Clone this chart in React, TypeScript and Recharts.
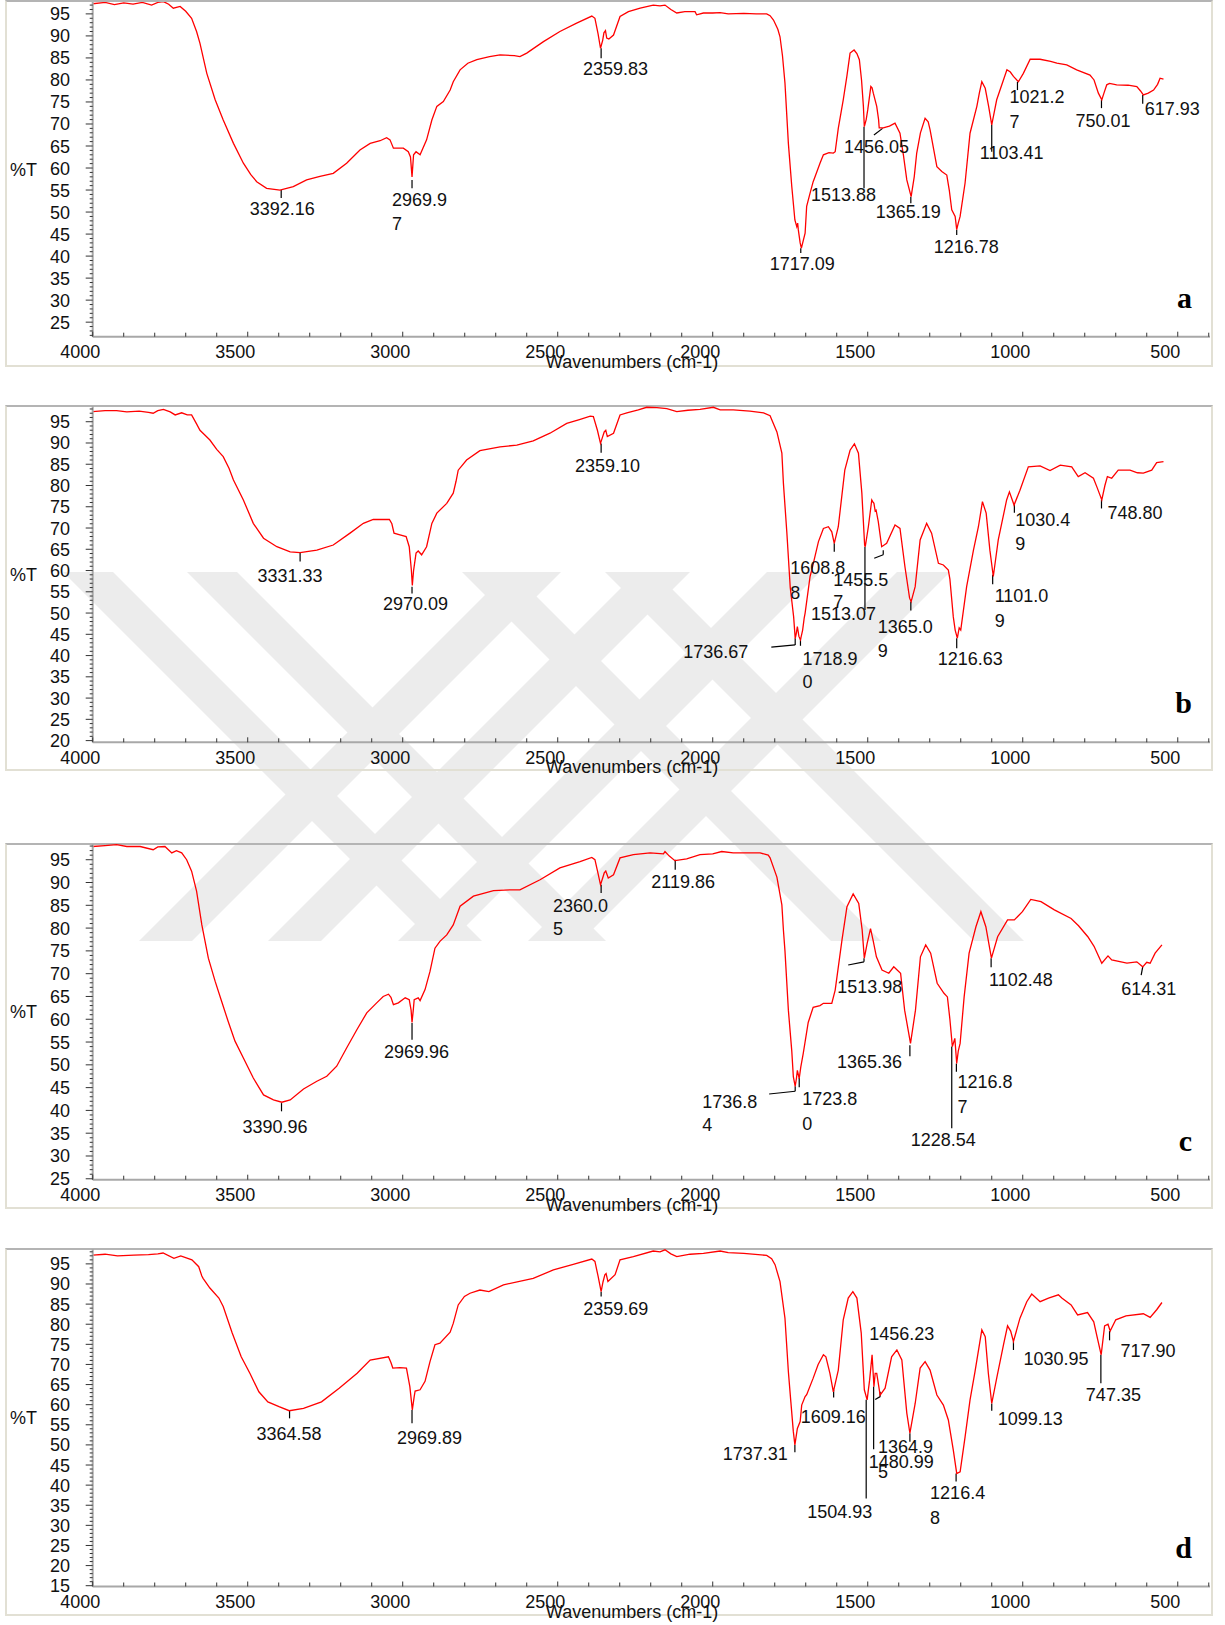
import React from 'react';
import { LineChart, Line, XAxis, YAxis, ReferenceLine, ReferenceDot } from 'recharts';

type Pt = [number, number];

// [wavenumber cm-1, %T]
const spectrumA: Pt[] = [
  [4000, 97.3], [3960, 97.6], [3930, 97.1], [3900, 97.5], [3870, 97.2], [3840, 97.6], [3810, 97.0], [3790, 97.6],
  [3772, 97.8], [3755, 97.2], [3740, 96.3], [3718, 96.7], [3700, 95.6], [3681, 94.0], [3665, 91.0], [3654, 88.3],
  [3632, 81.5], [3605, 75.5], [3579, 70.9], [3546, 65.6], [3514, 61.1], [3490, 58.5], [3471, 56.9], [3439, 55.4],
  [3396, 55.0], [3353, 55.8], [3310, 57.3], [3267, 58.1], [3224, 58.8], [3181, 61.1], [3138, 64.1], [3105, 65.6],
  [3073, 66.2], [3052, 66.9], [3041, 66.4], [3030, 64.5], [2998, 64.5], [2982, 63.7], [2975, 62.5], [2970, 58.0],
  [2965, 63.0], [2957, 63.7], [2944, 63.0], [2923, 66.4], [2906, 70.9], [2890, 74.0], [2869, 75.1], [2847, 77.7],
  [2837, 79.6], [2815, 82.3], [2790, 83.8], [2761, 84.6], [2720, 85.3], [2686, 85.7], [2640, 85.5], [2622, 85.3],
  [2600, 86.1], [2546, 88.7], [2493, 91.0], [2439, 92.9], [2390, 94.5], [2380, 94.0], [2370, 90.5], [2362, 87.2],
  [2355, 89.0], [2351, 90.7], [2346, 91.2], [2342, 89.5], [2335, 89.3], [2320, 90.2], [2299, 94.4], [2272, 95.5],
  [2234, 96.3], [2192, 97.0], [2170, 96.8], [2154, 97.0], [2135, 96.0], [2116, 95.2], [2090, 95.5], [2057, 95.5],
  [2052, 94.8], [2030, 95.2], [2000, 95.2], [1976, 95.3], [1950, 95.0], [1900, 95.1], [1860, 95.0], [1826, 95.0],
  [1815, 94.6], [1804, 93.6], [1790, 91.5], [1783, 89.8], [1775, 85.5], [1767, 79.3], [1756, 65.6], [1745, 55.8],
  [1735, 48.2], [1729, 46.7], [1726, 47.5], [1724, 46.0], [1718, 43.0], [1714, 41.8], [1708, 43.5], [1702, 45.2],
  [1697, 51.3], [1686, 54.3], [1676, 56.9], [1670, 58.0], [1654, 61.1], [1643, 63.0], [1625, 63.5], [1611, 63.4],
  [1605, 63.7], [1595, 69.0], [1579, 75.5], [1567, 81.0], [1557, 86.1], [1544, 86.8], [1535, 86.0], [1527, 84.6],
  [1520, 80.0], [1514, 74.0], [1511, 69.4], [1505, 71.0], [1500, 73.2], [1490, 78.5], [1486, 78.2], [1482, 77.0],
  [1471, 74.0], [1465, 71.0], [1463, 69.1], [1450, 69.1], [1430, 69.5], [1412, 70.2], [1396, 67.9], [1385, 63.0],
  [1374, 57.3], [1360, 53.5], [1350, 58.0], [1342, 63.4], [1330, 68.0], [1315, 71.3], [1305, 70.5], [1299, 68.7],
  [1277, 60.3], [1261, 59.2], [1245, 58.4], [1237, 55.0], [1229, 50.5], [1218, 49.0], [1213, 46.0], [1208, 47.5],
  [1202, 49.0], [1186, 56.6], [1170, 67.9], [1148, 74.0], [1140, 77.0], [1132, 79.6], [1121, 78.1], [1110, 74.0],
  [1100, 69.8], [1084, 75.5], [1051, 82.3], [1040, 81.8], [1030, 80.8], [1014, 79.6], [998, 81.5], [976, 84.7],
  [944, 84.7], [910, 84.2], [890, 83.8], [858, 83.4], [826, 82.3], [783, 81.1], [770, 80.0], [756, 77.0],
  [745, 75.5], [738, 77.0], [729, 78.9], [720, 79.2], [697, 78.9], [660, 78.8], [632, 78.5], [620, 77.5],
  [611, 76.6], [595, 77.0], [578, 77.7], [565, 79.0], [557, 80.4], [546, 80.2],
];

const spectrumB: Pt[] = [
  [4000, 97.4], [3960, 97.6], [3923, 97.6], [3890, 97.3], [3850, 97.5], [3820, 97.2], [3805, 97.0], [3790, 97.6],
  [3772, 97.9], [3750, 97.3], [3734, 96.6], [3713, 97.1], [3695, 96.6], [3681, 96.6], [3665, 94.5], [3654, 93.0],
  [3640, 92.0], [3622, 90.7], [3600, 88.5], [3579, 86.8], [3560, 84.0], [3546, 81.3], [3514, 76.6], [3482, 71.1],
  [3449, 67.6], [3406, 65.6], [3363, 64.4], [3331, 64.2], [3277, 64.8], [3224, 66.0], [3170, 68.8], [3127, 71.1],
  [3095, 72.0], [3043, 72.0], [3035, 71.0], [3028, 68.8], [3009, 68.4], [2989, 68.0], [2979, 65.6], [2972, 60.0],
  [2969, 56.5], [2965, 60.0], [2957, 64.1], [2950, 64.6], [2939, 63.7], [2923, 65.6], [2906, 71.1], [2890, 73.5],
  [2858, 75.8], [2837, 78.2], [2828, 81.0], [2821, 83.6], [2794, 86.0], [2751, 88.2], [2686, 89.1], [2632, 89.5],
  [2579, 90.5], [2525, 92.3], [2471, 94.6], [2430, 95.5], [2395, 96.3], [2385, 96.2], [2372, 93.0], [2362, 89.9],
  [2355, 91.5], [2350, 92.6], [2345, 93.0], [2340, 91.5], [2320, 92.3], [2299, 96.6], [2277, 97.1], [2240, 97.8],
  [2213, 98.4], [2180, 98.3], [2148, 98.1], [2116, 97.4], [2080, 97.7], [2041, 97.9], [1998, 98.4], [1976, 97.8],
  [1934, 97.8], [1880, 97.5], [1836, 97.1], [1815, 96.4], [1793, 92.6], [1777, 87.6], [1772, 80.5], [1761, 69.0],
  [1750, 56.0], [1739, 49.1], [1734, 44.0], [1731, 45.0], [1727, 46.8], [1722, 44.5], [1717, 43.7], [1710, 46.0],
  [1705, 48.8], [1702, 50.0], [1686, 58.6], [1681, 60.0], [1659, 66.8], [1643, 69.9], [1627, 70.3], [1616, 69.1],
  [1608, 66.4], [1595, 70.3], [1574, 83.6], [1557, 88.3], [1543, 89.8], [1530, 87.6], [1519, 78.2], [1510, 66.0],
  [1508, 65.6], [1498, 70.3], [1487, 76.6], [1484, 76.2], [1480, 75.8], [1476, 74.0], [1473, 74.2], [1466, 71.5],
  [1455, 65.6], [1439, 66.4], [1412, 70.7], [1396, 69.9], [1380, 60.9], [1365, 53.5], [1360, 52.7], [1347, 56.2],
  [1331, 67.2], [1310, 71.1], [1294, 68.8], [1272, 61.7], [1256, 61.3], [1240, 60.1], [1235, 58.0], [1224, 49.1],
  [1218, 46.0], [1211, 44.1], [1205, 46.5], [1200, 46.0], [1181, 56.2], [1159, 64.8], [1143, 70.3], [1130, 76.2],
  [1118, 73.5], [1106, 64.8], [1095, 58.6], [1079, 67.2], [1052, 76.6], [1043, 78.5], [1028, 75.4], [1009, 78.9],
  [982, 84.4], [944, 84.6], [912, 83.5], [879, 84.8], [842, 84.4], [821, 82.1], [799, 83.0], [772, 81.7],
  [760, 79.5], [745, 76.6], [735, 80.0], [727, 82.1], [713, 81.7], [692, 83.6], [654, 83.6], [630, 83.0],
  [611, 82.9], [584, 83.6], [568, 85.4], [546, 85.6],
];

const spectrumC: Pt[] = [
  [4000, 97.9], [3960, 98.1], [3923, 98.3], [3890, 97.9], [3847, 97.9], [3805, 97.2], [3790, 97.8], [3767, 97.9],
  [3745, 96.5], [3730, 97.0], [3713, 96.5], [3697, 95.0], [3681, 92.5], [3665, 88.1], [3648, 80.7], [3627, 73.4],
  [3605, 68.3], [3584, 63.9], [3563, 59.5], [3541, 55.2], [3514, 51.5], [3482, 47.1], [3449, 43.4], [3417, 42.3],
  [3390, 41.8], [3363, 42.3], [3320, 44.7], [3277, 46.4], [3245, 47.5], [3213, 49.7], [3181, 53.7], [3148, 57.7],
  [3116, 61.4], [3084, 63.6], [3063, 65.0], [3046, 65.5], [3038, 64.8], [3030, 63.2], [3014, 63.6], [2992, 64.7],
  [2979, 64.3], [2973, 62.0], [2970, 59.3], [2966, 62.0], [2963, 64.3], [2950, 64.7], [2944, 64.1], [2928, 66.5],
  [2912, 70.5], [2896, 75.6], [2880, 77.1], [2858, 78.5], [2837, 80.7], [2815, 84.8], [2772, 87.0], [2707, 88.2],
  [2650, 88.4], [2622, 88.4], [2557, 90.6], [2493, 93.2], [2428, 94.6], [2390, 95.5], [2380, 95.0], [2370, 92.0],
  [2362, 89.5], [2355, 91.0], [2350, 92.1], [2345, 92.5], [2337, 91.0], [2320, 91.7], [2299, 95.4], [2256, 96.1],
  [2202, 96.5], [2159, 96.3], [2154, 96.8], [2140, 95.8], [2122, 94.8], [2084, 95.2], [2041, 96.1], [2000, 96.3],
  [1971, 96.8], [1934, 96.5], [1847, 96.5], [1821, 96.0], [1815, 95.4], [1793, 91.2], [1777, 85.1], [1772, 79.6],
  [1767, 75.0], [1756, 62.0], [1745, 53.0], [1740, 47.4], [1734, 45.3], [1730, 47.0], [1727, 48.8], [1721, 47.0],
  [1716, 49.5], [1708, 52.5], [1692, 59.3], [1676, 62.6], [1654, 63.0], [1643, 63.5], [1616, 63.5], [1605, 66.4],
  [1583, 77.4], [1567, 84.7], [1547, 87.5], [1529, 85.4], [1518, 79.6], [1511, 73.4], [1502, 76.6], [1491, 79.9],
  [1483, 77.4], [1472, 73.7], [1454, 70.8], [1432, 70.1], [1416, 71.5], [1394, 70.1], [1381, 62.0], [1362, 54.7],
  [1346, 62.0], [1330, 73.7], [1313, 76.3], [1297, 74.5], [1276, 67.9], [1254, 65.7], [1243, 64.9], [1235, 60.0],
  [1227, 54.0], [1219, 55.8], [1213, 50.3], [1208, 53.0], [1202, 54.7], [1189, 64.9], [1173, 74.5], [1151, 80.3],
  [1135, 83.6], [1119, 80.3], [1101, 73.4], [1081, 78.1], [1049, 81.8], [1027, 81.8], [1001, 83.6], [974, 86.3],
  [941, 85.8], [898, 84.0], [844, 82.1], [820, 80.5], [790, 78.1], [770, 76.0], [745, 72.3], [725, 73.9],
  [713, 73.0], [664, 72.3], [632, 72.6], [613, 71.5], [600, 72.5], [589, 72.3], [573, 74.5], [551, 76.3],
];

const spectrumD: Pt[] = [
  [4000, 97.2], [3960, 97.4], [3920, 97.0], [3867, 97.2], [3820, 97.3], [3790, 97.5], [3773, 97.7], [3738, 96.4],
  [3716, 97.0], [3680, 96.0], [3658, 94.3], [3648, 92.0], [3644, 91.4], [3622, 89.0], [3593, 86.5], [3579, 84.4],
  [3550, 77.8], [3521, 71.9], [3493, 67.8], [3464, 63.2], [3435, 60.7], [3399, 59.5], [3366, 58.5], [3320, 59.1],
  [3262, 60.7], [3205, 64.1], [3147, 67.8], [3105, 71.1], [3046, 71.9], [3038, 70.5], [3032, 69.1], [3009, 69.2],
  [2988, 69.1], [2977, 64.5], [2969, 58.7], [2963, 62.0], [2960, 63.4], [2944, 63.7], [2928, 65.8], [2912, 70.7],
  [2896, 74.9], [2880, 75.3], [2847, 78.0], [2837, 80.2], [2821, 84.8], [2801, 86.9], [2783, 87.7], [2751, 88.5],
  [2722, 88.1], [2675, 89.8], [2579, 91.4], [2514, 93.5], [2450, 94.9], [2390, 96.2], [2380, 95.6], [2370, 92.0],
  [2360, 88.1], [2354, 90.5], [2348, 92.3], [2344, 92.6], [2338, 90.6], [2315, 92.3], [2299, 96.0], [2256, 96.8],
  [2192, 98.2], [2170, 98.0], [2154, 98.5], [2135, 97.5], [2116, 96.8], [2073, 97.4], [2030, 97.6], [1976, 98.2],
  [1950, 97.8], [1900, 97.6], [1826, 97.1], [1810, 96.3], [1799, 94.8], [1783, 90.6], [1767, 81.5], [1756, 68.2],
  [1748, 60.7], [1740, 53.3], [1735, 50.0], [1727, 54.1], [1718, 55.8], [1713, 59.9], [1702, 62.0], [1697, 62.5],
  [1676, 66.6], [1660, 70.0], [1643, 72.4], [1635, 71.9], [1622, 67.8], [1611, 63.2], [1595, 68.6], [1579, 81.1],
  [1563, 86.5], [1548, 88.1], [1535, 86.5], [1521, 77.8], [1511, 63.7], [1502, 61.2], [1494, 66.1], [1486, 72.4],
  [1480, 64.5], [1476, 67.8], [1471, 67.8], [1460, 62.4], [1444, 64.1], [1423, 71.9], [1406, 73.6], [1390, 71.1],
  [1374, 57.9], [1364, 52.9], [1347, 60.3], [1331, 69.1], [1315, 70.7], [1299, 68.6], [1277, 62.4], [1256, 59.9],
  [1240, 56.2], [1224, 48.7], [1213, 42.9], [1202, 43.3], [1186, 52.0], [1170, 61.2], [1154, 68.2], [1132, 78.6],
  [1121, 76.9], [1111, 67.8], [1100, 60.3], [1084, 66.6], [1062, 74.9], [1049, 79.6], [1039, 78.3], [1030, 75.7],
  [1009, 81.5], [987, 85.6], [971, 87.5], [944, 85.6], [917, 86.5], [885, 87.3], [874, 86.5], [844, 84.8],
  [823, 82.3], [791, 82.9], [771, 80.6], [758, 76.1], [747, 72.4], [736, 79.6], [725, 80.0], [718, 78.3],
  [700, 81.1], [667, 82.1], [611, 82.6], [589, 81.7], [568, 83.6], [551, 85.4],
];

// peak labels as printed (wrapped where the original wraps)
const labelsA = [['3392.16'], ['2969.9', '7'], ['2359.83'], ['1717.09'], ['1513.88'], ['1456.05'], ['1365.19'],
  ['1216.78'], ['1103.41'], ['1021.2', '7'], ['750.01'], ['617.93']];
const labelsB = [['3331.33'], ['2970.09'], ['2359.10'], ['1736.67'], ['1718.9', '0'], ['1608.8', '8'], ['1513.07'],
  ['1455.5', '7'], ['1365.0', '9'], ['1216.63'], ['1101.0', '9'], ['1030.4', '9'], ['748.80']];
const labelsC = [['3390.96'], ['2969.96'], ['2360.0', '5'], ['2119.86'], ['1736.8', '4'], ['1723.8', '0'], ['1513.98'],
  ['1365.36'], ['1228.54'], ['1216.8', '7'], ['1102.48'], ['614.31']];
const labelsD = [['3364.58'], ['2969.89'], ['2359.69'], ['1737.31'], ['1609.16'], ['1504.93'], ['1480.99'], ['1456.23'],
  ['1364.9', '5'], ['1216.4', '8'], ['1099.13'], ['1030.95'], ['747.35'], ['717.90']];

const xMajor = [4000, 3500, 3000, 2500, 2000, 1500, 1000, 500];
const xTicks = Array.from({ length: 37 }, (_, i) => 4000 - i * 100);

// leader geometry (data units) and text offset (px) from the leader's last point
type Mark = { pts: Pt[]; dx: number; dy: number; anchor?: 'start' | 'middle' | 'end'; gap?: number };

const marksA: Mark[] = [
  { pts: [[3392, 55.0], [3392, 53.2]], dx: 1, dy: 17, anchor: 'middle' },
  { pts: [[2970, 57.3], [2970, 55.4]], dx: -20, dy: 18, gap: 24 },
  { pts: [[2360, 87.2], [2360, 84.9]], dx: -18, dy: 17 },
  { pts: [[1716, 41.8], [1716, 40.7]], dx: -31, dy: 17 },
  { pts: [[1512, 69.4], [1512, 55.4]], dx: -53, dy: 13 },
  { pts: [[1452, 69.0], [1480, 67.5]], dx: -30, dy: 18 },
  { pts: [[1361, 53.5], [1361, 52.0]], dx: -35, dy: 15 },
  { pts: [[1213, 46.0], [1213, 44.8]], dx: -23, dy: 18 },
  { pts: [[1100, 69.8], [1100, 63.7]], dx: -12, dy: 7 },
  { pts: [[1017, 79.6], [1017, 77.7]], dx: -8, dy: 13, gap: 25 },
  { pts: [[746, 75.5], [746, 73.6]], dx: -26, dy: 19 },
  { pts: [[613, 76.6], [613, 74.6]], dx: 2, dy: 11 },
];

const marksB: Mark[] = [
  { pts: [[3331, 64.2], [3331, 62.1]], dx: -10, dy: 20, anchor: 'middle' },
  { pts: [[2970, 56.2], [2970, 54.6]], dx: -29, dy: 17 },
  { pts: [[2360, 89.9], [2360, 87.7]], dx: -26, dy: 19 },
  { pts: [[1734, 44.1], [1734, 42.5], [1811, 42.0]], dx: -23, dy: 11, anchor: 'end' },
  { pts: [[1717, 44.1], [1717, 42.3]], dx: 2, dy: 19, gap: 23 },
  { pts: [[1608, 66.4], [1608, 64.4]], dx: -44, dy: 22, gap: 25 },
  { pts: [[1509, 65.6], [1509, 50.7]], dx: -54, dy: 10 },
  { pts: [[1450, 64.8], [1450, 63.7], [1479, 62.9]], dx: -41, dy: 28, gap: 22 },
  { pts: [[1361, 52.7], [1361, 50.6]], dx: -33, dy: 23, gap: 24 },
  { pts: [[1213, 44.1], [1213, 41.7]], dx: -19, dy: 17 },
  { pts: [[1097, 59.0], [1097, 56.8]], dx: 2, dy: 18, gap: 25 },
  { pts: [[1027, 75.6], [1027, 73.6]], dx: 1, dy: 13, gap: 24 },
  { pts: [[746, 76.6], [746, 74.6]], dx: 6, dy: 11 },
];

const marksC: Mark[] = [
  { pts: [[3391, 41.6], [3391, 39.8]], dx: -39, dy: 22 },
  { pts: [[2970, 59.2], [2970, 55.5]], dx: -28, dy: 18 },
  { pts: [[2360, 89.5], [2360, 87.7]], dx: -48, dy: 19, gap: 23 },
  { pts: [[2121, 95.0], [2121, 92.8]], dx: -24, dy: 18 },
  { pts: [[1734, 45.3], [1734, 44.2], [1818, 43.6]], dx: -67, dy: 14, gap: 23 },
  { pts: [[1721, 47.1], [1721, 45.1]], dx: 3, dy: 18, gap: 25 },
  { pts: [[1512, 73.4], [1512, 72.6], [1563, 71.9]], dx: -11, dy: 28 },
  { pts: [[1364, 54.3], [1364, 51.9]], dx: -73, dy: 12 },
  { pts: [[1229, 54.0], [1229, 36.1]], dx: -41, dy: 18 },
  { pts: [[1214, 50.3], [1214, 48.5]], dx: 1, dy: 16, gap: 25 },
  { pts: [[1102, 73.4], [1102, 71.4]], dx: -2, dy: 19 },
  { pts: [[613, 71.5], [618, 69.7]], dx: -20, dy: 20 },
];

const marksD: Mark[] = [
  { pts: [[3365, 58.5], [3365, 56.6]], dx: -33, dy: 22 },
  { pts: [[2970, 58.7], [2970, 55.4]], dx: -15, dy: 21 },
  { pts: [[2360, 88.1], [2360, 86.9]], dx: -18, dy: 19 },
  { pts: [[1735, 50.0], [1735, 48.2]], dx: -7, dy: 8, anchor: 'end' },
  { pts: [[1610, 63.7], [1610, 61.8]], dx: -33, dy: 26 },
  { pts: [[1505, 61.2], [1505, 36.7]], dx: -59, dy: 20 },
  { pts: [[1481, 64.5], [1481, 48.9]], dx: -5, dy: 19 },
  { pts: [[1460, 63.2], [1460, 62.0], [1476, 61.3]], dx: -6, dy: -59 },
  { pts: [[1364, 52.9], [1364, 50.8]], dx: -32, dy: 11, gap: 25 },
  { pts: [[1215, 42.9], [1215, 40.9]], dx: -26, dy: 17, gap: 25 },
  { pts: [[1100, 60.3], [1100, 58.5]], dx: 6, dy: 14 },
  { pts: [[1030, 75.7], [1030, 73.6]], dx: 10, dy: 15 },
  { pts: [[748, 72.4], [748, 65.3]], dx: -15, dy: 18 },
  { pts: [[720, 78.3], [720, 76.0]], dx: 11, dy: 17 },
];

const FONT = '"Liberation Sans", Arial, Helvetica, sans-serif';
const PLOT_LEFT = 92.7;
const PLOT_RIGHT = 1210;

const panels = [
  { tag: 'a', top: 2, bottom: 336.7, yMin: 21.7, yMax: 97.7, frameTop: 0, frameBottom: 367, data: spectrumA, labels: labelsA, marks: marksA },
  { tag: 'b', top: 406, bottom: 742.3, yMin: 19.6, yMax: 98.7, frameTop: 405, frameBottom: 771, data: spectrumB, labels: labelsB, marks: marksB },
  { tag: 'c', top: 844, bottom: 1179.7, yMin: 24.8, yMax: 98.45, frameTop: 843, frameBottom: 1209, data: spectrumC, labels: labelsC, marks: marksC },
  { tag: 'd', top: 1249, bottom: 1586.5, yMin: 14.8, yMax: 98.7, frameTop: 1248, frameBottom: 1616, data: spectrumD, labels: labelsD, marks: marksD },
];

// faint page watermark behind panels b and c (diagonal bands)
const WM_TOP = 572;
const WM_BOTTOM = 941;
const wmSlash = [508, 637, 767, 897];
const wmBack = [63, 187, 462, 605];

const renderXTick = (p: any) => {
  const v = p.payload.value;
  const major = xMajor.includes(v);
  return (
    <g>
      <line x1={p.x} x2={p.x} y1={p.y} y2={p.y - (major ? 5 : 4)} stroke="#333" strokeWidth={1} />
      {major && (
        <text x={p.x - 12.5} y={p.y + 21.5} textAnchor="middle" fontSize={18} fontFamily={FONT} fill="#111">
          {v}
        </text>
      )}
    </g>
  );
};

const renderYTick = (p: any) => {
  const v = p.payload.value;
  const major = v % 5 === 0 && v <= 95;
  return (
    <g>
      <line x1={p.x - (major ? 7 : 3)} x2={p.x} y1={p.y} y2={p.y} stroke="#333" strokeWidth={1} />
      {major && (
        <text x={p.x - 22.7} y={p.y + 6.5} textAnchor="end" fontSize={18} fontFamily={FONT} fill="#111">
          {v}
        </text>
      )}
    </g>
  );
};

function PeakText({ cx, cy, lines, mark }: { cx: number; cy: number; lines: string[]; mark: Mark }) {
  const x = cx + mark.dx;
  return (
    <text x={x} y={cy + mark.dy} textAnchor={mark.anchor || 'start'} fontSize={18} fontFamily={FONT} fill="#111">
      {lines.map((l, i) => (
        <tspan key={i} x={x} dy={i === 0 ? 0 : mark.gap || 24}>
          {l}
        </tspan>
      ))}
    </text>
  );
}

function Panel({ cfg }: { cfg: (typeof panels)[number] }) {
  const plotH = cfg.bottom - cfg.top;
  const rows = cfg.data.map(([wn, t]) => ({ wn, t }));
  const yTicks: number[] = [];
  for (let v = Math.ceil(cfg.yMin); v <= Math.floor(cfg.yMax); v++) yTicks.push(v);

  return (
    <>
      <div
        style={{
          position: 'absolute',
          left: 5,
          top: cfg.frameTop,
          width: 1208,
          height: cfg.frameBottom - cfg.frameTop,
          boxSizing: 'border-box',
          borderTop: '2px solid #b4b4b4',
          borderLeft: '2px solid #e2e0d4',
          borderRight: '2px solid #e2e0d4',
          borderBottom: '2px solid #e2e0d4',
        }}
      />
      <div style={{ position: 'absolute', left: 0, top: cfg.top }}>
        <LineChart width={1225} height={plotH + 40} data={rows} margin={{ top: 0, right: 1225 - PLOT_RIGHT, bottom: 0, left: 0 }}>
          <XAxis
            type="number"
            dataKey="wn"
            domain={[396, 4000]}
            reversed
            allowDataOverflow
            ticks={xTicks}
            interval={0}
            tick={renderXTick}
            tickLine={false}
            tickSize={0}
            tickMargin={0}
            height={40}
            axisLine={{ stroke: '#a8a8a8', strokeWidth: 2 }}
          />
          <YAxis
            type="number"
            domain={[cfg.yMin, cfg.yMax]}
            allowDataOverflow
            ticks={yTicks}
            interval={0}
            tick={renderYTick}
            tickLine={false}
            tickSize={0}
            tickMargin={0}
            width={PLOT_LEFT}
            axisLine={{ stroke: '#a8a8a8', strokeWidth: 2 }}
          />
          {cfg.marks.map((m, i) =>
            m.pts.slice(1).map((q, j) => (
              <ReferenceLine
                key={`l${i}-${j}`}
                segment={[{ x: m.pts[j][0], y: m.pts[j][1] }, { x: q[0], y: q[1] }]}
                stroke="#000"
                strokeWidth={1.2}
                ifOverflow="visible"
              />
            ))
          )}
          <Line type="linear" dataKey="t" stroke="#ff0000" strokeWidth={1.3} dot={false} isAnimationActive={false} />
          {cfg.marks.map((m, i) => {
            const end = m.pts[m.pts.length - 1];
            return (
              <ReferenceDot
                key={`t${i}`}
                x={end[0]}
                y={end[1]}
                r={0}
                ifOverflow="visible"
                shape={(p: any) => <PeakText cx={p.cx} cy={p.cy} lines={cfg.labels[i]} mark={m} />}
              />
            );
          })}
        </LineChart>
      </div>
    </>
  );
}

export default function App() {
  const h = WM_BOTTOM - WM_TOP;
  return (
    <div style={{ position: 'absolute', left: 0, top: 0, width: 1225, height: 1625, background: '#fff', overflow: 'hidden' }}>
      <svg width={1225} height={1625} style={{ position: 'absolute', left: 0, top: 0 }}>
        <g fill="#ececec">
          {wmSlash.map((x0) => (
            <polygon key={`s${x0}`} points={`${x0},${WM_TOP} ${x0 + 53},${WM_TOP} ${x0 + 53 - h},${WM_BOTTOM} ${x0 - h},${WM_BOTTOM}`} />
          ))}
          {wmBack.map((x0) => (
            <polygon key={`b${x0}`} points={`${x0},${WM_TOP} ${x0 + 50},${WM_TOP} ${x0 + 50 + h},${WM_BOTTOM} ${x0 + h},${WM_BOTTOM}`} />
          ))}
        </g>
      </svg>
      {panels.map((cfg) => (
        <Panel key={cfg.tag} cfg={cfg} />
      ))}
      <svg width={1225} height={1625} style={{ position: 'absolute', left: 0, top: 0, pointerEvents: 'none' }}>
        {panels.map((cfg) => (
          <g key={cfg.tag}>
            <text x={10} y={(cfg.top + cfg.bottom) / 2 + 6.5} fontSize={18} fontFamily={FONT} fill="#111">
              %T
            </text>
            <text x={632} y={cfg.bottom + 31} textAnchor="middle" fontSize={18} fontFamily={FONT} fill="#111">
              Wavenumbers (cm-1)
            </text>
            <text
              x={1192}
              y={cfg.bottom - 29}
              textAnchor="end"
              fontSize={30}
              fontWeight="bold"
              fontFamily='"Liberation Serif", "Times New Roman", serif'
              fill="#000"
            >
              {cfg.tag}
            </text>
          </g>
        ))}
      </svg>
    </div>
  );
}
